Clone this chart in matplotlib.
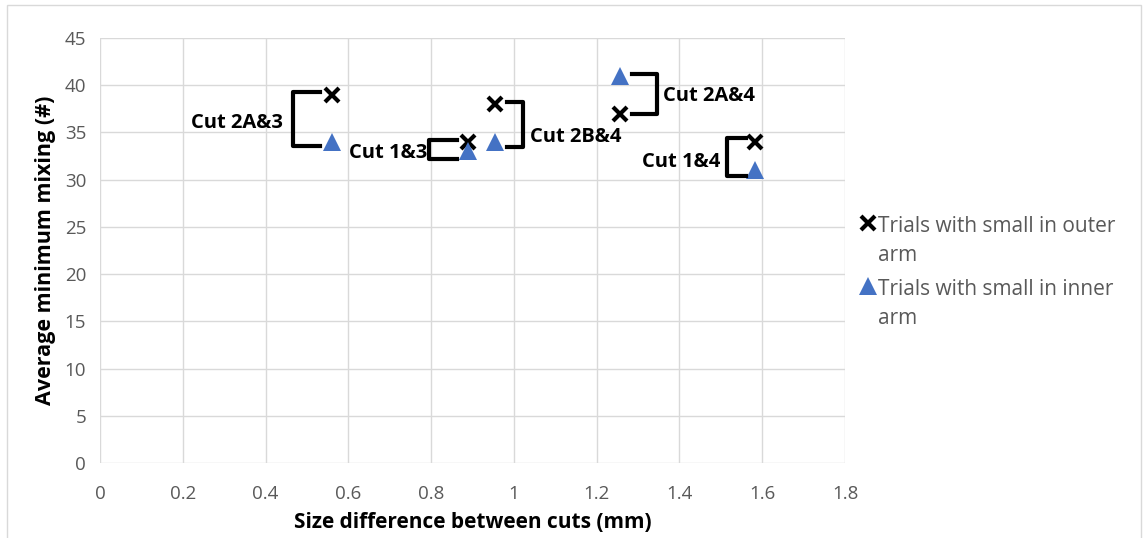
import matplotlib.pyplot as plt
from matplotlib.lines import Line2D
from matplotlib.patches import Rectangle

plt.rcParams["font.family"] = ["Open Sans", "DejaVu Sans"]

size_diff = [0.56, 0.889, 0.954, 1.256, 1.583]
outer_mixing = [39, 34, 38, 37, 34]
inner_mixing = [34, 33, 34, 41, 31]

series_names = ["Trials with small in outer\narm", "Trials with small in inner\narm"]
cut_labels = ["Cut 2A&3", "Cut 1&3", "Cut 2B&4", "Cut 2A&4", "Cut 1&4"]
# bracket: (x_open, x_back, y_top, y_bottom), label anchor (x, y, ha)
brackets = [
    (0.532, 0.466, 39.3, 33.6),
    (0.863, 0.795, 34.2, 32.2),
    (0.983, 1.022, 38.2, 33.5),
    (1.285, 1.346, 41.2, 37.0),
    (1.561, 1.515, 34.4, 30.4),
]
label_pos = [
    (0.442, 36.0, "right"),
    (0.790, 32.8, "right"),
    (1.039, 34.5, "left"),
    (1.360, 38.9, "left"),
    (1.498, 31.9, "right"),
]

fig = plt.figure(figsize=(11.48, 5.38), dpi=100)
ax = fig.add_axes([0.0871, 0.1394, 0.6490, 0.7900])

outer_style = dict(marker="x", color="black", mew=3, ms=10.5, ls="none")
inner_style = dict(marker="^", color="#4472C4", mew=0, ms=13, ls="none")

ax.plot(size_diff, outer_mixing, zorder=3, **outer_style)
ax.plot(size_diff, inner_mixing, zorder=3, **inner_style)

for (x0, x1, yt, yb), (lx, ly, ha), txt in zip(brackets, label_pos, cut_labels):
    ax.add_line(Line2D([x0, x1, x1, x0], [yt, yt, yb, yb], color="black",
                       lw=3, solid_joinstyle="round", zorder=4))
    ax.text(lx, ly, txt, ha=ha, va="center", fontsize=14.5, fontweight="bold")

ax.set_xlim(0, 1.8)
ax.set_ylim(0, 45)
ax.set_xticks([0, 0.2, 0.4, 0.6, 0.8, 1, 1.2, 1.4, 1.6, 1.8])
ax.set_xticklabels(["0", "0.2", "0.4", "0.6", "0.8", "1", "1.2", "1.4", "1.6", "1.8"])
ax.set_yticks(range(0, 46, 5))
ax.grid(True, color="#d9d9d9", lw=1)
ax.set_axisbelow(True)
for sp in ax.spines.values():
    sp.set_visible(False)
ax.tick_params(length=0, labelsize=13.5, labelcolor="#595959", pad=10)
ax.tick_params(axis="x", pad=16)

ax.set_xlabel("Size difference between cuts (mm)", fontsize=15,
              fontweight="bold", labelpad=6)
ax.set_ylabel("Average minimum mixing (#)", fontsize=15.5,
              fontweight="bold", labelpad=6)

# legend drawn by hand so each marker sits on the first line of its label
W, H = 1148, 538
for (py, style), name in zip([(223, outer_style), (286, inner_style)], series_names):
    fig.add_artist(Line2D([868 / W], [1 - py / H], transform=fig.transFigure,
                          **style))
    fig.text(878 / W, 1 - (py - 7) / H, name, ha="left", va="top",
             fontsize=15, color="#595959", linespacing=1.5)

fig.add_artist(Rectangle((0.006, -0.01), 0.988, 1.0, transform=fig.transFigure,
                         fill=False, edgecolor="#d9d9d9", lw=1))

fig.savefig("out.png", dpi=100)
